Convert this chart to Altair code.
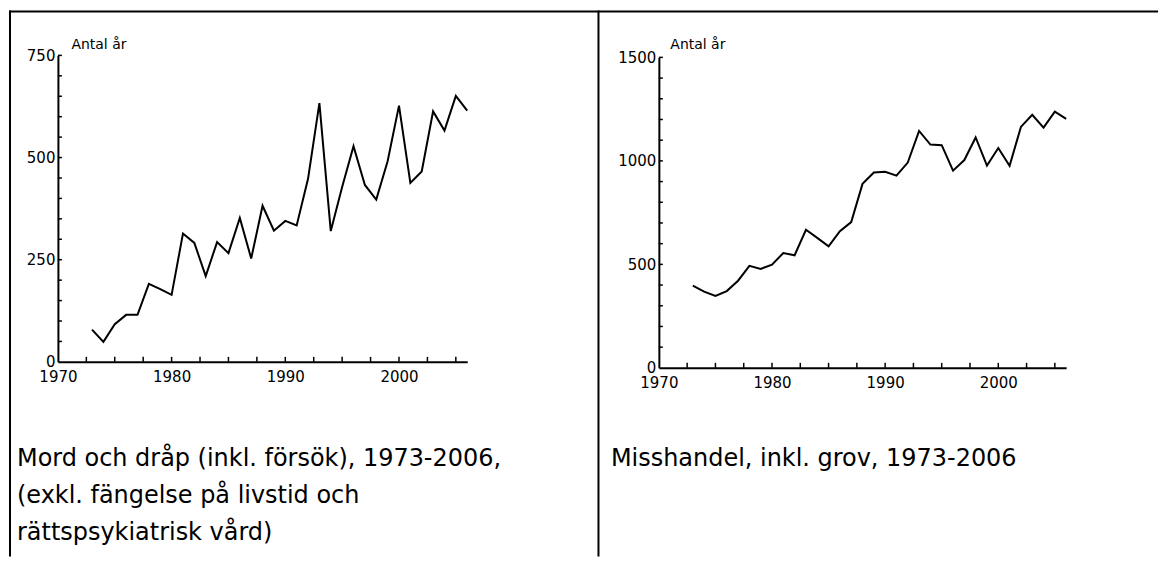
import altair as alt
import pandas as pd

# ---- data ----
years = [1973, 1974, 1975, 1976, 1977, 1978, 1979, 1980, 1981, 1982, 1983, 1984,
         1985, 1986, 1987, 1988, 1989, 1990, 1991, 1992, 1993, 1994, 1995, 1996,
         1997, 1998, 1999, 2000, 2001, 2002, 2003, 2004, 2005, 2006]
mord = [79, 49, 92, 115, 115, 191, 178, 164, 314, 291, 210, 293, 266, 352, 253, 382,
        321, 345, 334, 448, 633, 320, 428, 528, 433, 397, 491, 627, 438, 466, 613,
        566, 651, 615]
misshandel = [397, 368, 347, 371, 421, 493, 478, 499, 555, 544, 667, 628, 587, 660,
              704, 889, 944, 947, 929, 992, 1145, 1079, 1076, 953, 1004, 1113, 977,
              1062, 976, 1164, 1223, 1161, 1238, 1203]

x_labels = [1970, 1980, 1990, 2000]
x_ticks = [1972.5, 1975, 1977.5, 1980, 1982.5, 1985, 1987.5, 1990, 1992.5, 1995,
           1997.5, 2000, 2002.5, 2005]
y_labels_left = [0, 250, 500, 750]
y_ticks_left = [50, 100, 150, 200, 250, 300, 350, 400, 450, 500, 550, 600, 650, 700, 750]
y_labels_right = [0, 500, 1000, 1500]
y_ticks_right = [100, 200, 300, 400, 500, 600, 700, 800, 900, 1000, 1100, 1200, 1300,
                 1400, 1500]

caption_left = ["Mord och dråp (inkl. försök), 1973-2006,",
                "(exkl. fängelse på livstid och",
                "rättspsykiatrisk vård)"]
caption_right = ["Misshandel, inkl. grov, 1973-2006"]
y_title = "Antal år"

FONT = "DejaVu Sans"
H = 549
one = pd.DataFrame({"k": [0]})


def panel(values, ymax, ylabels, yticks, xr, yr, width, caption, cap_x, title_x,
          left_border):
    df = pd.DataFrame({"year": years, "value": values})
    xs = alt.Scale(domain=[1970, 2006], range=xr, nice=False, zero=False)
    ys = alt.Scale(domain=[0, ymax], range=yr, nice=False, zero=False)
    xaxis = alt.Axis(
        orient="bottom", values=x_labels, format="d", offset=yr[0] - H, ticks=False,
        grid=False, domainColor="black", domainWidth=2, labelColor="black",
        labelFont=FONT, labelFontSize=15, labelPadding=8, labelFlush=False, title=None)
    yaxis = alt.Axis(
        orient="left", values=ylabels, format="d", offset=-xr[0], ticks=False,
        grid=False, domainColor="black", domainWidth=2, labelColor="black",
        labelFont=FONT, labelFontSize=15, labelPadding=3, title=y_title,
        titleAngle=0, titleX=title_x, titleY=40, titleAlign="left",
        titleBaseline="alphabetic", titleFont=FONT, titleFontSize=14,
        titleFontWeight="normal", titleColor="black")
    line = alt.Chart(df).mark_line(color="black", strokeWidth=2).encode(
        x=alt.X("year:Q", scale=xs, axis=xaxis),
        y=alt.Y("value:Q", scale=ys, axis=yaxis),
    )
    # inward-pointing minor ticks, placed through the shared scales
    yt = alt.Chart(pd.DataFrame({"v": yticks})).mark_rule(
        color="black", strokeWidth=1.5).encode(
        y=alt.Y("v:Q", scale=ys, axis=yaxis),
        x=alt.value(xr[0]), x2=alt.value(xr[0] + 4))
    xt = alt.Chart(pd.DataFrame({"v": x_ticks})).mark_rule(
        color="black", strokeWidth=1.5).encode(
        x=alt.X("v:Q", scale=xs, axis=xaxis),
        y=alt.value(yr[0]), y2=alt.value(yr[0] - 5))
    cap = alt.Chart(one).mark_text(
        text=caption, align="left", baseline="alphabetic", font=FONT, fontSize=24,
        lineHeight=37, color="black").encode(x=alt.value(cap_x), y=alt.value(458))
    top = alt.Chart(one).mark_rule(color="black", strokeWidth=2).encode(
        x=alt.value(0), x2=alt.value(width), y=alt.value(3))
    layers = [line, yt, xt, top, cap]
    if left_border:
        lb = alt.Chart(one).mark_rule(color="black", strokeWidth=2).encode(
            x=alt.value(1), y=alt.value(2), y2=alt.value(H))
        mb = alt.Chart(one).mark_rule(color="black", strokeWidth=2).encode(
            x=alt.value(width - 0.5), y=alt.value(2), y2=alt.value(H))
        layers += [lb, mb]
    return alt.layer(*layers).properties(width=width, height=H)


left = panel(mord, 750, y_labels_left, y_ticks_left, [49, 459], [354, 47], 591,
             caption_left, 8, 13, True)
right = panel(misshandel, 1500, y_labels_right, y_ticks_right, [60, 468], [360, 49], 560,
              caption_right, 12, 11, False)

chart = alt.hconcat(left, right, spacing=0, bounds="flush", padding=0,
                    background="white").configure_view(stroke=None)

chart.save("out.html", embed_options={"renderer": "svg", "actions": False})
